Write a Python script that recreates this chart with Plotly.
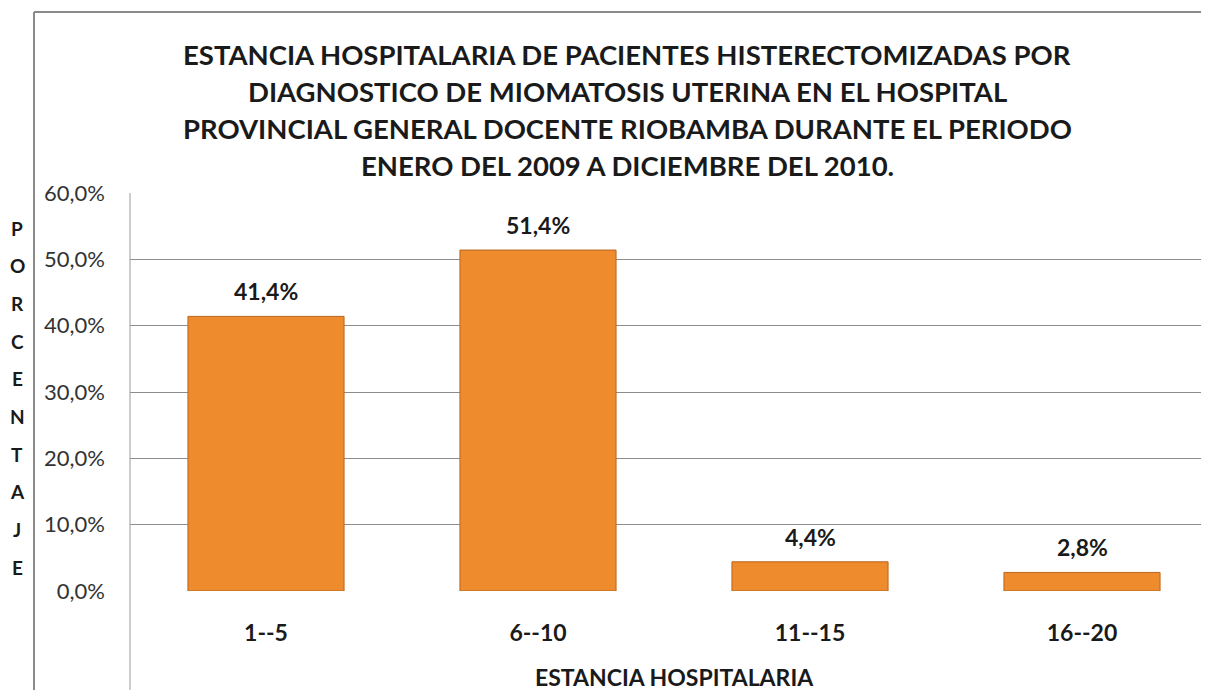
import plotly.graph_objects as go

# ---- data ----
categories = ["1--5", "6--10", "11--15", "16--20"]
percentages = [41.4, 51.4, 4.4, 2.8]
y_tick_values = [0, 10, 20, 30, 40, 50, 60]
y_tick_labels = ["0,0%", "10,0%", "20,0%", "30,0%", "40,0%", "50,0%", "60,0%"]
title_lines = [
    "ESTANCIA HOSPITALARIA DE PACIENTES HISTERECTOMIZADAS POR",
    "DIAGNOSTICO DE MIOMATOSIS UTERINA EN EL HOSPITAL",
    "PROVINCIAL GENERAL DOCENTE RIOBAMBA DURANTE EL PERIODO",
    "ENERO DEL 2009 A DICIEMBRE DEL 2010.",
]
x_title = "ESTANCIA HOSPITALARIA"
y_title = "PORCENTAJE"

# ---- layout geometry (page shows figure offset by body margin) ----
OFF = 8
W, H = 1209 - OFF, 690 - OFF
# target positions in screenshot pixels
PLOT_L, PLOT_T, PLOT_B, PLOT_R = 130, 193, 591, 1209
ML = PLOT_L - OFF
MT = PLOT_T - OFF
MB = (H + OFF) - PLOT_B
MR = (W + OFF) - PLOT_R
PW, PH = W - ML - MR, H - MT - MB
BAND = 272.0

def px_x(px):
    return (px - PLOT_L) / PW

def px_y(py):
    return (PLOT_B - py) / PH

FONT = "Lato"
DARK = "#1a1a1a"
bar_labels = [f"{v:.1f}%".replace(".", ",") for v in percentages]

fig = go.Figure()
fig.add_trace(go.Bar(
    x=categories,
    y=percentages,
    width=0.574,
    marker=dict(color="#EE8B2D", line=dict(color="#B9651F", width=1)),
    hoverinfo="skip",
))

annotations = []
for c, v, lab in zip(categories, percentages, bar_labels):
    annotations.append(dict(x=c, y=v, xref="x", yref="y", text=f"<b>{lab}</b>",
                            showarrow=False, yshift=25,
                            font=dict(family=FONT, size=23, color=DARK)))

# title lines
for i, line in enumerate(title_lines):
    annotations.append(dict(x=px_x(627), y=px_y(54 + 37.3 * i), xref="paper", yref="paper",
                            text=f"<b>{line}</b>", showarrow=False,
                            xanchor="center", yanchor="middle",
                            font=dict(family=FONT, size=27.5, color=DARK)))

# y title stacked letters
for i, ch in enumerate(y_title):
    annotations.append(dict(x=px_x(17), y=px_y(228 + 37.7 * i), xref="paper", yref="paper",
                            text=f"<b>{ch}</b>", showarrow=False,
                            xanchor="center", yanchor="middle",
                            font=dict(family=FONT, size=19, color=DARK)))

# x title
annotations.append(dict(x=px_x(674), y=px_y(677), xref="paper", yref="paper",
                        text=f"<b>{x_title}</b>", showarrow=False,
                        xanchor="center", yanchor="middle",
                        font=dict(family=FONT, size=23, color=DARK)))

shapes = [
    # plot area left border
    dict(type="line", xref="paper", yref="paper", x0=0, x1=0, y0=px_y(H + OFF + 5), y1=1,
         line=dict(color="#9a9a9a", width=1)),
    # outer chart border (left and top)
    dict(type="line", xref="paper", yref="paper", x0=px_x(34), x1=px_x(34),
         y0=px_y(H + OFF + 5), y1=px_y(12), line=dict(color="#8a8a8a", width=2)),
    dict(type="line", xref="paper", yref="paper", x0=px_x(34), x1=px_x(W + OFF + 5),
         y0=px_y(12), y1=px_y(12), line=dict(color="#8a8a8a", width=2)),
]

fig.update_layout(
    width=W, height=H,
    margin=dict(l=ML, r=MR, t=MT, b=MB, autoexpand=False),
    paper_bgcolor="white", plot_bgcolor="white",
    showlegend=False,
    annotations=annotations,
    shapes=shapes,
    xaxis=dict(
        range=[-0.5, -0.5 + PW / BAND],
        showgrid=False, zeroline=False, showline=False,
        ticks="", ticklabelstandoff=26,
        tickfont=dict(family=FONT, size=23, color=DARK, weight="bold"),
    ),
    yaxis=dict(
        range=[0, 60],
        tickvals=y_tick_values, ticktext=y_tick_labels,
        showgrid=True, gridcolor="#8c8c8c", gridwidth=1,
        zeroline=False, showline=False, ticks="",
        ticklabelstandoff=24,
        tickfont=dict(family=FONT, size=22, color="#333333"),
    ),
)

fig.write_html("out.html")
